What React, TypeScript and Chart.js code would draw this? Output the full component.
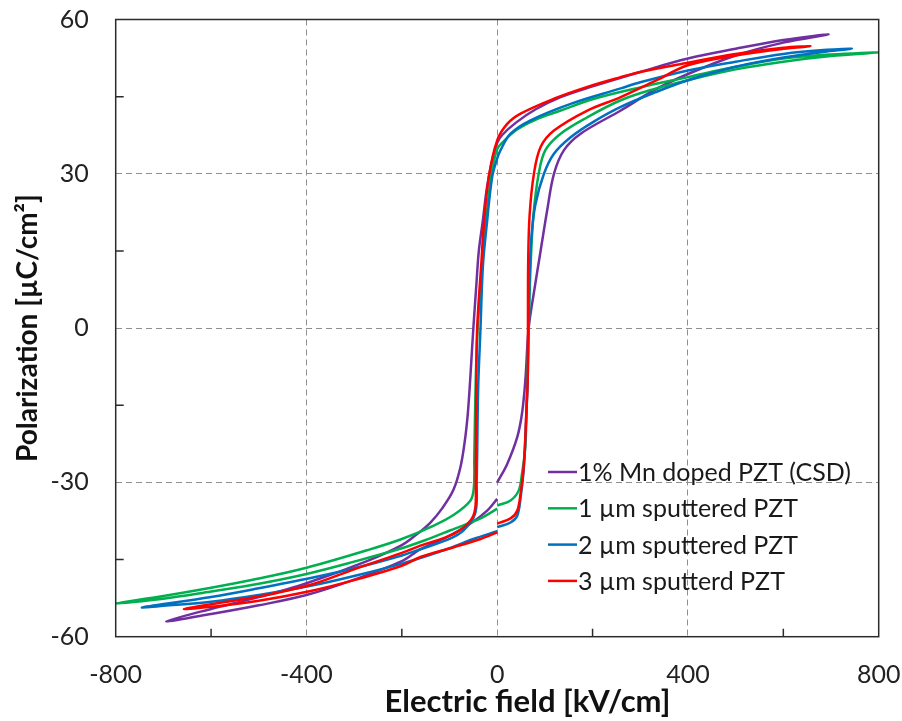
import React, { useEffect, useRef } from 'react';
import { Chart, registerables } from 'chart.js';

Chart.register(...registerables);

// P–E hysteresis loops: each trace starts at E = 0, sweeps up to +Emax,
// down to -Emax and back up to E = 0.
const seriesLabels = [
  '1% Mn doped PZT (CSD)',
  '1 \u00b5m sputtered PZT',
  '2 \u00b5m sputtered PZT',
  '3 \u00b5m sputterd PZT',
];

const xAxisTitle = 'Electric field [kV/cm]';
const yAxisTitle = 'Polarization [\u00b5C/cm\u00b2]';

// Electric field [kV/cm]
const mnCsdField = [
  0, 21, 42, 52, 59, 66, 78, 91, 105, 119, 140, 175, 259, 330, 400, 500, 600, 695,
  600, 500, 400, 300, 200, 133, 80, 40, 10, 0, -12, -22, -30, -38.5, -44, -50, -54, -58, -62, -68, -77, -92, -115, -140, -170, -200, -273, -400, -500, -600, -694,
  -600, -500, -400, -300, -200, -161, -105, -56, -21, 0,
];
// Polarization [µC/cm²]
const mnCsdPolarization = [
  -30, -26.4, -21.2, -16.6, -10.2, 0, 7.5, 15, 23, 30, 34.6, 37.8, 42.3, 46.3, 49.4, 53, 55.5, 57.1,
  56, 54.3, 52.4, 49.8, 47, 44.9, 42.5, 40, 37.5, 36, 32, 27, 21, 15, 8, 0, -6, -12, -17, -22, -27, -31.5, -35, -37.8, -40.2, -42.2, -45.3, -49.6, -52.3, -54.6, -57,
  -55.6, -53.9, -51.9, -48.9, -45.3, -43, -40.6, -38, -35.5, -33.2,
];

const sp1Field = [
  0, 28, 45, 52, 59, 63, 66, 70, 76, 87, 101, 133, 189, 259, 330, 400, 500, 600, 700, 800,
  700, 600, 500, 400, 300, 200, 133, 80, 40, 10, 0, -12, -22, -30, -38, -41, -45, -48, -49, -56, -91, -133, -200, -273, -400, -500, -600, -700, -800,
  -700, -600, -500, -400, -300, -200, -150, -98, -35, 0,
];
const sp1Polarization = [
  -34.5, -33.5, -31.6, -28.3, -23, -10, 0, 12, 22, 30, 34.6, 37.8, 41, 44.3, 46.5, 48.2, 50.3, 51.8, 52.9, 53.6,
  53.2, 52.4, 50.8, 48.8, 46.8, 44.5, 42.3, 40.5, 38.5, 36, 34.8, 30, 22, 14, 4, 0, -10, -25, -31, -33.5, -36.3, -38.4, -41, -43.2, -46.6, -48.7, -50.5, -52.1, -53.5,
  -52.6, -51.2, -49.7, -47.8, -45.4, -42.8, -41.2, -39.3, -37, -35.1,
];

const sp2Field = [
  0, 28, 42, 49, 56, 61, 64, 66, 68, 72, 80, 98, 119, 154, 200, 259, 330, 400, 500, 600, 691, 744,
  691, 600, 500, 400, 300, 259, 154, 70, 28, 7, 0, -10.5, -22, -30, -35, -40, -43, -46, -70, -100, -161, -200, -300, -391, -500, -600, -744,
  -700, -600, -500, -391, -300, -200, -100, -50, 0,
];
const sp2Polarization = [
  -38.7, -37.8, -36.5, -33, -27, -17, -10, 0, 10, 18, 24, 30, 33.9, 37.1, 40, 43, 45.8, 48.2, 50.8, 52.6, 53.8, 54.3,
  54.1, 53.3, 51.8, 50.1, 47.8, 46.6, 43.6, 40.4, 37.8, 34.6, 33, 29.4, 20, 12, 0, -12, -30, -36, -39.3, -41, -43, -44.2, -46.7, -48.6, -50.6, -52.3, -54.3,
  -54, -53.2, -51.9, -50.1, -48.2, -45.8, -42.8, -41, -39.5,
];

const sp3Field = [
  0, 28, 42, 49, 56, 61, 64, 64.5, 65, 68, 77, 91, 119, 189, 259, 330, 400, 500, 600, 657,
  600, 500, 400, 300, 259, 189, 119, 49, 21, 0, -17.6, -28, -33, -42, -44, -45, -46, -56, -91, -161, -200, -300, -391, -500, -600, -657,
  -600, -500, -391, -300, -200, -161, -91, -35, 0,
];
const sp3Polarization = [
  -38, -37, -35.5, -32.2, -26.4, -16.6, -10, 0, 13, 22, 30, 35.2, 38.4, 42.3, 44.9, 48, 51.1, 53, 54.3, 54.8,
  54.5, 53.3, 51.6, 49.8, 48.8, 46.9, 44.6, 41.7, 39.7, 36.5, 29.4, 20, 13, 0, -12, -30, -35, -37.4, -40, -42.3, -43.7, -46.9, -49.9, -52.2, -53.7, -54.6,
  -54.2, -53, -51.1, -49, -46.2, -44.5, -42.6, -41, -39.7,
];

const xTickValues = [-800, -400, 0, 400, 800];
const yTickValues = [-60, -30, 0, 30, 60];
const xMinorTicks = [-600, -200, 200, 600];
const yMinorTicks = [-45, -15, 15, 45];

const seriesColors = ['#7030a0', '#00b050', '#0070c0', '#ff0000'];
const drawOrder = [3, 2, 1, 0];

const FONT = 'Lato';

const toPoints = (xs: number[], ys: number[]) => xs.map((x, i) => ({ x, y: ys[i] }));

// Plot frame and inward minor tick marks
const framePlugin = {
  id: 'frame',
  afterDatasetsDraw(chart: any) {
    const { ctx, chartArea, scales } = chart;
    const { left, right, top, bottom } = chartArea;
    ctx.save();
    ctx.strokeStyle = '#2b2b2b';
    ctx.lineWidth = 1.5;
    ctx.beginPath();
    for (const v of yMinorTicks) {
      const y = scales.y.getPixelForValue(v);
      ctx.moveTo(left, y);
      ctx.lineTo(left + 8, y);
    }
    for (const v of xMinorTicks) {
      const x = scales.x.getPixelForValue(v);
      ctx.moveTo(x, bottom);
      ctx.lineTo(x, bottom - 8);
    }
    ctx.stroke();
    ctx.strokeRect(left, top, right - left, bottom - top);
    ctx.restore();
  },
};

// Legend inside the plot area (lower right) and the x-axis title
const annotationPlugin = {
  id: 'insideLegend',
  afterDraw(chart: any) {
    const { ctx } = chart;
    ctx.save();
    ctx.font = `25px ${FONT}`;
    ctx.textBaseline = 'middle';
    ctx.textAlign = 'left';
    const x0 = 548;
    const y0 = 472;
    const rowGap = 36.3;
    seriesLabels.forEach((label, i) => {
      const y = y0 + i * rowGap;
      ctx.strokeStyle = seriesColors[i];
      ctx.lineWidth = 2.5;
      ctx.beginPath();
      ctx.moveTo(x0, y);
      ctx.lineTo(x0 + 29, y);
      ctx.stroke();
      ctx.fillStyle = '#1a1a1a';
      ctx.fillText(label, x0 + 30, y + 1);
    });

    ctx.font = `bold 31px ${FONT}`;
    ctx.textAlign = 'center';
    ctx.textBaseline = 'alphabetic';
    ctx.fillStyle = '#111';
    ctx.fillText(xAxisTitle, 527.5, 712);
    ctx.restore();
  },
};

export default function App() {
  const canvasRef = useRef<HTMLCanvasElement | null>(null);

  useEffect(() => {
    if (!canvasRef.current) return;
    const fields = [mnCsdField, sp1Field, sp2Field, sp3Field];
    const pols = [mnCsdPolarization, sp1Polarization, sp2Polarization, sp3Polarization];

    const gridColor = (edge: number) => (ctx: any) =>
      Math.abs(ctx.tick?.value) === edge ? 'rgba(0,0,0,0)' : '#8f8f8f';

    const chart = new Chart(canvasRef.current, {
      type: 'scatter',
      data: {
        datasets: seriesLabels.map((label, i) => ({
          label,
          data: toPoints(fields[i], pols[i]),
          showLine: true,
          borderColor: seriesColors[i],
          backgroundColor: seriesColors[i],
          borderWidth: 2.5,
          pointRadius: 0,
          tension: 0.35,
          order: drawOrder[i],
        })),
      },
      plugins: [framePlugin, annotationPlugin],
      options: {
        animation: false,
        responsive: true,
        maintainAspectRatio: false,
        layout: { padding: { left: 0, right: 23.3, top: 19.5, bottom: 0 } },
        plugins: {
          legend: { display: false },
          tooltip: { enabled: false },
        },
        scales: {
          x: {
            type: 'linear',
            min: -800,
            max: 800,
            afterBuildTicks: (s: any) => {
              s.ticks = xTickValues.map((value) => ({ value }));
            },
            afterFit: (s: any) => {
              s.height = 84.3;
              s.paddingLeft = 0;
              s.paddingRight = 0;
            },
            ticks: {
              color: '#222',
              font: { family: FONT, size: 25 },
              padding: 23,
              maxRotation: 0,
            },
            grid: { color: gridColor(800), lineWidth: 1, drawTicks: false },
            border: { display: false, dash: [6, 4] },
            title: { display: false },
          },
          y: {
            type: 'linear',
            min: -60,
            max: 60,
            afterBuildTicks: (s: any) => {
              s.ticks = yTickValues.map((value) => ({ value }));
            },
            afterFit: (s: any) => {
              s.width = 115.7;
              s.paddingTop = 0;
              s.paddingBottom = 0;
            },
            ticks: {
              color: '#222',
              font: { family: FONT, size: 25 },
              padding: 27,
            },
            grid: { color: gridColor(60), lineWidth: 1, drawTicks: false },
            border: { display: false, dash: [6, 4] },
            title: {
              display: true,
              text: yAxisTitle,
              color: '#111',
              font: { family: FONT, size: 28, weight: 'bold' },
              padding: { top: 11, bottom: 0 },
            },
          },
        },
      } as any,
    });
    return () => chart.destroy();
  }, []);

  return (
    <div
      style={{
        position: 'fixed',
        left: 0,
        top: 0,
        width: 902,
        height: 721,
        background: '#fff',
      }}
    >
      <canvas ref={canvasRef} />
    </div>
  );
}
